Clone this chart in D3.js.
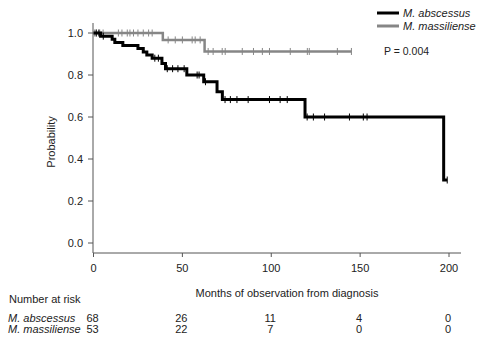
<!DOCTYPE html>
<html>
<head>
<meta charset="utf-8">
<script src="https://cdn.jsdelivr.net/npm/d3@7"></script>
<style>
  body { margin: 0; background: #fff; }
  svg text { font-family: "Liberation Sans", Arial, sans-serif; fill: #222; }
</style>
</head>
<body>
<div id="chart"></div>
<script>
// Kaplan-Meier steps
const absEventTimes = [4, 10.5, 12, 16.5, 25, 28, 30, 33, 38.5, 40.5, 52.5, 62, 69.5, 72.5, 119, 197];
const absSurvival = [0.985, 0.97, 0.955, 0.94, 0.926, 0.91, 0.895, 0.88, 0.855, 0.83, 0.80, 0.768, 0.72, 0.683, 0.60, 0.30];
const absCensored = [1.5, 3, 5.5, 34.5, 36.5, 41.5, 44.5, 47.5, 51, 58.3, 59.4, 63, 74, 77, 80.7, 87, 99, 105, 109, 120.2, 123.7, 130, 144, 151.8, 153.9, 199];

const masEventTimes = [39, 62.5];
const masSurvival = [0.967, 0.912];
const masCensored = [0.5, 1.6, 3.5, 5.4, 14, 16, 19, 20.5, 22.5, 25, 28, 31, 33, 42, 46, 50, 55.5, 57.2, 60, 64.5, 67.3, 72.4, 74.1, 83.7, 90, 95, 99, 110.7, 120.3, 121.4, 137.2, 145.1];

const xTicks = [0, 50, 100, 150, 200];
const yTicks = [0, 0.2, 0.4, 0.6, 0.8, 1.0];
const riskTimes = [0, 50, 100, 150, 200];
const riskAbs = [68, 26, 11, 4, 0];
const riskMas = [53, 22, 7, 0, 0];

const W = 500, H = 339;
const svg = d3.select("#chart").append("svg").attr("width", W).attr("height", H);

const x = d3.scaleLinear().domain([0, 200]).range([93.5, 449]);
const y = d3.scaleLinear().domain([0, 1]).range([243, 33]);
const axisColor = "#555";

// axes lines
svg.append("line").attr("x1", 93).attr("x2", 93).attr("y1", 23).attr("y2", 253)
  .attr("stroke", axisColor).attr("stroke-width", 1);
svg.append("line").attr("x1", 93).attr("x2", 461).attr("y1", 253).attr("y2", 253)
  .attr("stroke", axisColor).attr("stroke-width", 1);

// y ticks
const yg = svg.append("g");
yTicks.forEach(v => {
  yg.append("line").attr("x1", 88).attr("x2", 93).attr("y1", y(v)).attr("y2", y(v))
    .attr("stroke", axisColor);
  yg.append("text").attr("x", 83).attr("y", y(v)).attr("dy", "0.35em")
    .attr("text-anchor", "end").attr("font-size", 11).text(d3.format(".1f")(v));
});

// x ticks
const xg = svg.append("g");
xTicks.forEach(v => {
  xg.append("line").attr("x1", x(v)).attr("x2", x(v)).attr("y1", 253).attr("y2", 257)
    .attr("stroke", axisColor);
  xg.append("text").attr("x", x(v)).attr("y", 272).attr("text-anchor", "middle")
    .attr("font-size", 11).text(v);
});

// titles
svg.append("text").attr("transform", "translate(55,142) rotate(-90)")
  .attr("text-anchor", "middle").attr("font-size", 11).text("Probability");
svg.append("text").attr("x", 287).attr("y", 297).attr("text-anchor", "middle")
  .attr("font-size", 11).text("Months of observation from diagnosis");

function stepPoints(times, surv, censored) {
  const pts = [[0, 1]];
  times.forEach((t, i) => pts.push([t, surv[i]]));
  const end = d3.max(censored.concat(times));
  const last = pts[pts.length - 1];
  if (end > last[0]) pts.push([end, last[1]]);
  return pts;
}
function survAt(times, surv, t) {
  let s = 1;
  times.forEach((tt, i) => { if (tt <= t) s = surv[i]; });
  return s;
}

const line = d3.line().x(d => x(d[0])).y(d => y(d[1])).curve(d3.curveStepAfter);

function drawCurve(times, surv, censored, color, width) {
  const g = svg.append("g");
  g.append("path").datum(stepPoints(times, surv, censored))
    .attr("d", line).attr("fill", "none").attr("stroke", color)
    .attr("stroke-width", width).attr("stroke-linejoin", "miter");
  g.selectAll("line.cens").data(censored).enter().append("line")
    .attr("x1", d => x(d)).attr("x2", d => x(d))
    .attr("y1", d => y(survAt(times, surv, d)) - 3.5)
    .attr("y2", d => y(survAt(times, surv, d)) + 3.5)
    .attr("stroke", color).attr("stroke-width", 1);
}

drawCurve(masEventTimes, masSurvival, masCensored, "#868686", 2.5);
drawCurve(absEventTimes, absSurvival, absCensored, "#000", 3);

// legend
const legend = [
  { name: "M. abscessus", color: "#000" },
  { name: "M. massiliense", color: "#868686" }
];
legend.forEach((d, i) => {
  const ly = 13 + i * 13;
  svg.append("line").attr("x1", 377).attr("x2", 399).attr("y1", ly).attr("y2", ly)
    .attr("stroke", d.color).attr("stroke-width", 3);
  svg.append("text").attr("x", 403).attr("y", ly + 3.8).attr("font-size", 11)
    .attr("font-style", "italic").text(d.name);
});
svg.append("text").attr("x", 384).attr("y", 55).attr("font-size", 10.5).text("P = 0.004");

// number at risk table
svg.append("text").attr("x", 9).attr("y", 303).attr("font-size", 11).text("Number at risk");
[["M. abscessus", riskAbs, 322], ["M. massiliense", riskMas, 333]].forEach(([name, vals, ry]) => {
  svg.append("text").attr("x", 8).attr("y", ry).attr("font-size", 11)
    .attr("font-style", "italic").text(name);
  vals.forEach((v, i) => {
    svg.append("text").attr("x", x(riskTimes[i]) - 1).attr("y", ry)
      .attr("text-anchor", "middle").attr("font-size", 11).text(v);
  });
});
</script>
</body>
</html>
